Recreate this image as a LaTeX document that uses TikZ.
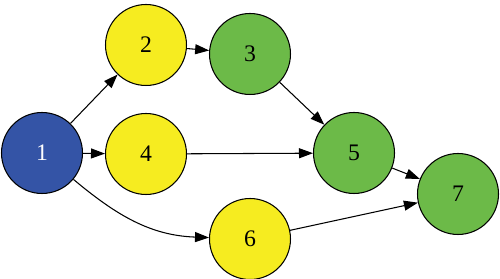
\documentclass[tikz,border=0pt]{standalone}
\usepackage{fontspec}
\setmainfont{Liberation Serif}
\usetikzlibrary{arrows.meta}
\definecolor{node_blue}{RGB}{52, 84, 166}
\definecolor{node_yellow}{RGB}{246, 236, 32}
\definecolor{node_green}{RGB}{108, 186, 72}

\begin{document}
\begin{tikzpicture}[
        x=0.02cm, y=-0.02cm,
        font=\fontsize{13.5}{16}\selectfont,
        every node/.style={inner sep=2pt},
        vertex/.style={circle, draw=black, semithick, minimum size=1.62cm},
        edge/.style={-{Triangle[length=0.28cm, width=0.2cm]}, semithick}
    ]
        % area del disegno (pixel del riferimento)
        \useasboundingbox (0, 0) rectangle (500, 279);

        % -------- Nodi --------
        \node[vertex, fill=node_blue, text=white] (n1) at (42, 153) {1};
        \node[vertex, fill=node_yellow] (n2) at (146, 45) {2};
        \node[vertex, fill=node_green] (n3) at (250, 54) {3};
        \node[vertex, fill=node_yellow] (n4) at (146, 154) {4};
        \node[vertex, fill=node_green] (n5) at (354, 153) {5};
        \node[vertex, fill=node_yellow] (n6) at (250, 239) {6};
        \node[vertex, fill=node_green] (n7) at (458, 194) {7};

        % -------- Archi --------
        \draw[edge] (n1) -- (n2);
        \draw[edge] (n1) -- (n4);
        \draw[edge] (n1) to[out=-40, in=178] (n6);
        \draw[edge] (n2) -- (n3);
        \draw[edge] (n3) -- (n5);
        \draw[edge] (n4) -- (n5);
        \draw[edge] (n5) -- (n7);
        \draw[edge] (n6) -- (n7);

    \end{tikzpicture}
\end{document}
